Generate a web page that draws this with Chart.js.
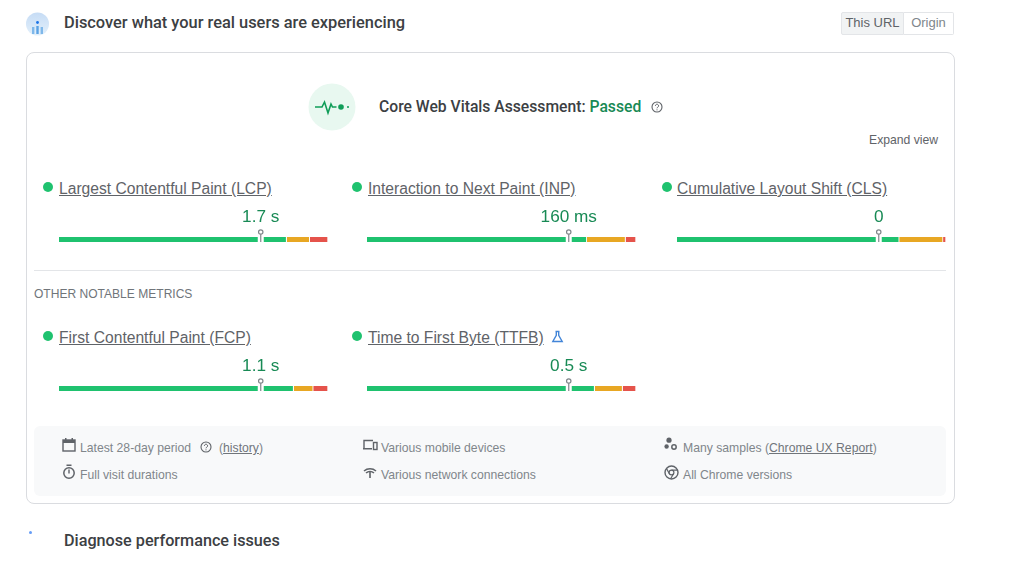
<!DOCTYPE html>
<html lang="en">
<head>
<meta charset="utf-8" />
<script src="https://cdn.jsdelivr.net/npm/chart.js@4/dist/chart.umd.js"></script>
<style>
html, body { margin: 0; padding: 0; background: #fff; }
body { position: relative; width: 1024px; height: 565px; overflow: hidden; font-family: "Liberation Sans", Arial, sans-serif; color: #5f6368; }
body > * { position: absolute; }
.head { font: 500 16.4px Roboto, sans-serif; color: #3c4043; white-space: nowrap; }
.name { font-size: 15.63px; color: #5f6368; text-decoration: underline; white-space: nowrap; line-height: 18px; }
.dot { width: 10px; height: 10px; border-radius: 50%; background: #1fc26f; }
.small { font-size: 12.2px; color: #80868b; white-space: nowrap; line-height: 16px; }
.small u { color: #70757a; }
canvas { position: absolute; }
</style>
</head>
<body>

<!-- top heading -->
<svg style="left:26px;top:12px" width="23" height="24" viewBox="0 0 23 24">
	<defs><linearGradient id="ic" x1="0" y1="0" x2="0" y2="1"><stop offset="0" stop-color="#c6dcf5"/><stop offset="1" stop-color="#e3f0fb"/></linearGradient></defs>
	<circle cx="11.5" cy="12" r="11.5" fill="url(#ic)"/>
	<circle cx="11.5" cy="10.5" r="1.4" fill="#1a73e8"/>
	<rect x="6" y="15" width="2.4" height="7" fill="#7fb8ea"/>
	<rect x="10.3" y="14" width="2.4" height="8" fill="#5aa2e4"/>
	<rect x="14.6" y="15" width="2.4" height="7" fill="#7fb8ea"/>
</svg>
<div class="head" style="left:64px;top:13px">Discover what your real users are experiencing</div>

<div style="left:841px;top:12px;width:63px;height:23px;background:#f1f3f4;border:1px solid #e3e5e8;border-radius:2px 0 0 2px;font-size:13px;line-height:20px;text-align:center;color:#5f6368;box-sizing:border-box">This URL</div>
<div style="left:904px;top:12px;width:50px;height:23px;border:1px solid #e3e5e8;border-left:0;border-radius:0 2px 2px 0;font-size:13px;line-height:20px;text-align:center;color:#80868b;box-sizing:border-box">Origin</div>

<!-- card -->
<div style="left:26px;top:52px;width:927px;height:450px;border:1px solid #dadce0;border-radius:8px"></div>

<svg style="left:308px;top:83px" width="48" height="48" viewBox="0 0 48 48">
	<circle cx="24" cy="24" r="23.5" fill="#e8f8f0"/>
	<path d="M7 24h7l2.5-5 3.5 11 3-9 1.5 3h4" fill="none" stroke="#0f9d58" stroke-width="1.6"/>
	<circle cx="33" cy="24" r="2.8" fill="#0f9d58"/>
	<circle cx="40" cy="24" r="1" fill="#0f9d58"/>
</svg>
<div class="head" style="left:379px;top:97px;font-size:15.7px">Core Web Vitals Assessment: <span style="color:#188a55">Passed</span></div>
<svg style="left:651px;top:101px" width="12" height="12" viewBox="0 0 12 12">
	<circle cx="6" cy="6" r="5" fill="none" stroke="#5f6368" stroke-width="1.1"/>
	<path d="M4.4 4.8a1.6 1.6 0 1 1 2.4 1.4c-.6.3-.8.6-.8 1.1" fill="none" stroke="#5f6368" stroke-width="1"/>
	<circle cx="6" cy="8.8" r=".6" fill="#5f6368"/>
</svg>
<div class="small" style="left:869px;top:132px;color:#5f6368">Expand view</div>

<!-- metrics -->
<div class="dot" style="left:43px;top:182px"></div>
<div class="name" style="left:59px;top:180px">Largest Contentful Paint (LCP)</div>
<canvas id="m0" width="269" height="40" style="left:59px;top:205px"></canvas>

<div class="dot" style="left:352px;top:182px"></div>
<div class="name" style="left:368px;top:180px">Interaction to Next Paint (INP)</div>
<canvas id="m1" width="269" height="40" style="left:367px;top:205px"></canvas>

<div class="dot" style="left:662px;top:182px"></div>
<div class="name" style="left:677px;top:180px">Cumulative Layout Shift (CLS)</div>
<canvas id="m2" width="269" height="40" style="left:677px;top:205px"></canvas>

<div style="left:34px;top:270px;width:912px;height:1px;background:#e3e5e8"></div>
<div class="small" style="left:34px;top:286px;font-size:12.05px;color:#70757a">OTHER NOTABLE METRICS</div>

<div class="dot" style="left:43px;top:331px"></div>
<div class="name" style="left:59px;top:329px">First Contentful Paint (FCP)</div>
<canvas id="m3" width="269" height="40" style="left:59px;top:354px"></canvas>

<div class="dot" style="left:352px;top:331px"></div>
<div class="name" style="left:368px;top:329px">Time to First Byte (TTFB)</div>
<svg style="left:551px;top:330px" width="13" height="13" viewBox="0 0 13 13">
	<path d="M4.5 1.5h4M5.3 1.5v3.8L1.8 11.5h9.4L7.7 5.3V1.5" fill="none" stroke="#4285d8" stroke-width="1.4"/>
</svg>
<canvas id="m4" width="269" height="40" style="left:367px;top:354px"></canvas>

<!-- footer panel -->
<div style="left:34px;top:426px;width:912px;height:70px;background:#f8f9fa;border-radius:6px"></div>

<svg style="left:62px;top:438px" width="14" height="14" viewBox="0 0 14 14">
	<rect x="1" y="2" width="12" height="11" fill="none" stroke="#5f6368" stroke-width="1.4"/>
	<rect x="1" y="2" width="12" height="3" fill="#5f6368"/>
	<rect x="3" y="0" width="1.5" height="3" fill="#5f6368"/>
	<rect x="9.5" y="0" width="1.5" height="3" fill="#5f6368"/>
</svg>
<div class="small" style="left:80px;top:440px">Latest 28-day period</div>
<svg style="left:200px;top:441px" width="12" height="12" viewBox="0 0 12 12">
	<circle cx="6" cy="6" r="5" fill="none" stroke="#5f6368" stroke-width="1.1"/>
	<path d="M4.4 4.8a1.6 1.6 0 1 1 2.4 1.4c-.6.3-.8.6-.8 1.1" fill="none" stroke="#5f6368" stroke-width="1"/>
	<circle cx="6" cy="8.8" r=".6" fill="#5f6368"/>
</svg>
<div class="small" style="left:219px;top:440px">(<u>history</u>)</div>

<svg style="left:62px;top:464px" width="14" height="15" viewBox="0 0 14 15">
	<circle cx="7" cy="9" r="5.2" fill="none" stroke="#5f6368" stroke-width="1.5"/>
	<rect x="4.5" y="0.5" width="5" height="1.5" fill="#5f6368"/>
	<rect x="6.3" y="5.5" width="1.4" height="4" fill="#5f6368"/>
</svg>
<div class="small" style="left:80px;top:467px">Full visit durations</div>

<svg style="left:363px;top:439px" width="15" height="12" viewBox="0 0 15 12">
	<path d="M1 9V1.5h9" fill="none" stroke="#5f6368" stroke-width="1.4"/>
	<rect x="0" y="9" width="9" height="1.5" fill="#5f6368"/>
	<rect x="10.5" y="3.5" width="3.5" height="7" fill="none" stroke="#5f6368" stroke-width="1.4"/>
</svg>
<div class="small" style="left:381px;top:440px">Various mobile devices</div>

<svg style="left:363px;top:467px" width="14" height="11" viewBox="0 0 14 11">
	<path d="M1 4a9 9 0 0 1 12 0M3 6a6 6 0 0 1 8 0" fill="none" stroke="#5f6368" stroke-width="1.5"/>
	<rect x="6.2" y="4" width="1.6" height="7" fill="#5f6368"/>
</svg>
<div class="small" style="left:381px;top:467px">Various network connections</div>

<svg style="left:664px;top:437px" width="14" height="14" viewBox="0 0 14 14">
	<circle cx="5" cy="3.2" r="2.6" fill="#5f6368"/>
	<circle cx="2.6" cy="9.5" r="2.2" fill="#5f6368"/>
	<circle cx="10" cy="10" r="2.2" fill="none" stroke="#5f6368" stroke-width="1.5"/>
</svg>
<div class="small" style="left:683px;top:440px">Many samples (<u>Chrome UX Report</u>)</div>

<svg style="left:664px;top:465px" width="15" height="15" viewBox="0 0 15 15">
	<circle cx="7.5" cy="7.5" r="6.5" fill="none" stroke="#5f6368" stroke-width="1.4"/>
	<circle cx="7.5" cy="7.5" r="2.4" fill="none" stroke="#5f6368" stroke-width="1.2"/>
	<path d="M7.5 5.1h6M5.4 8.7 2.4 3.4M9.6 8.7 6.6 13.8" fill="none" stroke="#5f6368" stroke-width="1.2"/>
</svg>
<div class="small" style="left:683px;top:467px">All Chrome versions</div>

<div style="left:29px;top:531px;width:3px;height:3px;border-radius:50%;background:#669df6"></div>
<div class="head" style="left:64px;top:531px;font-size:16.2px">Diagnose performance issues</div>

<script>
const metrics = ['LCP', 'INP', 'CLS', 'FCP', 'TTFB'];
const readings = ['1.7 s', '160 ms', '0', '1.1 s', '0.5 s'];
// share of page loads in each bucket, percent
const good = [84.6, 81.7, 82.6, 87.2, 84.6];
const needsWork = [8.6, 14.4, 16.3, 7.3, 10.4];
const poor = [6.8, 3.9, 1.1, 5.5, 5.0];
// where the pin sits on the bar, percent
const pin = [75, 75, 75, 75, 75];

const pinPlugin = {
	id: 'pin_and_reading',
	afterDatasetsDraw: (chart) => {
		const {ctx, scales} = chart;
		const i = chart.options.plugins.pin_and_reading.index;
		const x = scales.x.getPixelForValue(pin[i]);
		const y = scales.y.getPixelForValue(0);
		ctx.save();
		// white notch in the bar
		ctx.fillStyle = '#fff';
		ctx.fillRect(x - 3, y - 4, 6, 8);
		ctx.strokeStyle = '#80868b';
		ctx.lineWidth = 1.2;
		ctx.beginPath();
		ctx.moveTo(x, y - 5.5);
		ctx.lineTo(x, y + 2.5);
		ctx.stroke();
		ctx.beginPath();
		ctx.arc(x, y - 7.5, 2.2, 0, Math.PI * 2);
		ctx.fillStyle = '#fff';
		ctx.fill();
		ctx.stroke();
		ctx.fillStyle = '#188a55';
		ctx.font = "17.2px 'Liberation Sans'";
		ctx.textAlign = 'center';
		ctx.textBaseline = 'middle';
		ctx.fillText(readings[i], x, y - 22);
		ctx.restore();
	}
};

metrics.forEach((name, i) => {
	const seg = (label, value, color) => ({
		label: label,
		data: [value],
		backgroundColor: color,
		borderColor: '#fff',
		borderWidth: {left: 0, right: 1, top: 0, bottom: 0},
		borderSkipped: false,
		barThickness: 5
	});
	new Chart(document.getElementById('m' + i), {
		type: 'bar',
		data: {
			labels: [name],
			datasets: [
				seg('Good', good[i], '#1fc26f'),
				seg('Needs improvement', needsWork[i], '#e8a723'),
				seg('Poor', poor[i], '#e5534b')
			]
		},
		plugins: [pinPlugin],
		options: {
			indexAxis: 'y',
			responsive: false,
			animation: false,
			layout: {padding: {top: 29, left: 0, right: 0, bottom: 0}},
			scales: {
				x: {display: false, stacked: true, min: 0, max: 100},
				y: {display: false, stacked: true}
			},
			plugins: {
				legend: {display: false},
				tooltip: {enabled: false},
				pin_and_reading: {index: i}
			}
		}
	});
});
</script>
</body>
</html>
